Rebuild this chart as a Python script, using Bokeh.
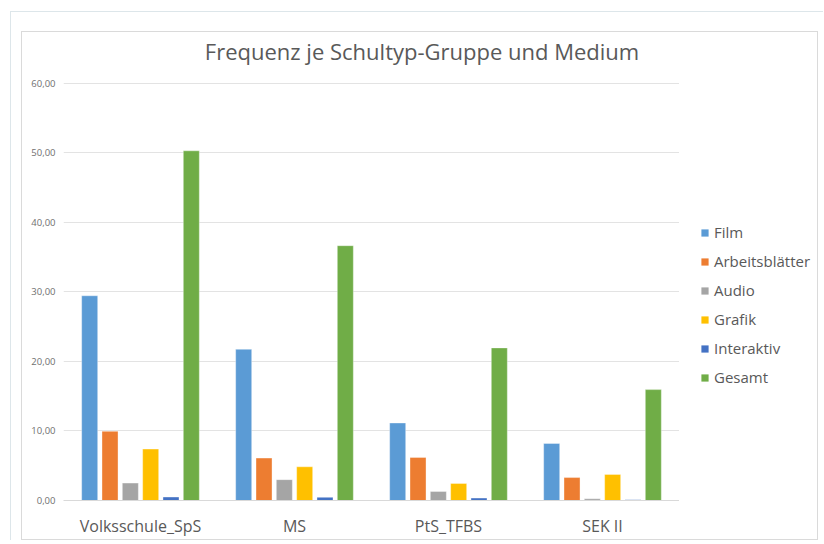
from bokeh.plotting import figure
from bokeh.layouts import column, row
from bokeh.models import (ColumnDataSource, FactorRange, Range1d, FixedTicker,
                          CustomJSTickFormatter, Legend, LegendItem, Label)
from bokeh.transform import dodge
from bokeh.embed import file_html
from bokeh.resources import INLINE

title_text = "Frequenz je Schultyp-Gruppe und Medium"
categories = ["Volksschule_SpS", "MS", "PtS_TFBS", "SEK II"]
film = [29.45, 21.75, 11.15, 8.2]
arbeitsblaetter = [9.95, 6.1, 6.2, 3.3]
audio = [2.5, 3.0, 1.3, 0.25]
grafik = [7.4, 4.85, 2.45, 3.75]
interaktiv = [0.5, 0.45, 0.35, 0.1]
gesamt = [50.3, 36.65, 21.95, 15.95]
y_ticks = [0, 10, 20, 30, 40, 50, 60]

series = [
    ("Film", film, "#5B9BD5"),
    ("Arbeitsblätter", arbeitsblaetter, "#ED7D31"),
    ("Audio", audio, "#A5A5A5"),
    ("Grafik", grafik, "#FFC000"),
    ("Interaktiv", interaktiv, "#4472C4"),
    ("Gesamt", gesamt, "#70AD47"),
]

data = {"cat": categories}
for i, (name, vals, col) in enumerate(series):
    data["s%d" % i] = vals
source = ColumnDataSource(data)

FONT = "Open Sans"
GREY = "#595959"

# frame: 469 px tall, value 60 sits 418 px above the baseline
p = figure(width=657, height=507, x_range=FactorRange(*categories, range_padding=0),
           y_range=Range1d(0, 60 * 469 / 418), output_backend="svg", toolbar_location=None,
           min_border_left=41, min_border_right=0, min_border_top=0, min_border_bottom=38)
p.outline_line_color = None

pitch = 0.132
for i, (name, vals, col) in enumerate(series):
    p.vbar(x=dodge("cat", (i - 2.5) * pitch, range=p.x_range), top="s%d" % i,
           width=0.104, source=source, fill_color=col, line_color="white",
           line_width=0.6, line_alpha=0.6)

p.add_layout(Label(x=2.328, y=64.6, text=title_text, text_align="center",
                   text_baseline="middle", text_font=FONT, text_font_size="22px",
                   text_color=GREY))

p.yaxis.ticker = FixedTicker(ticks=y_ticks)
p.yaxis.formatter = CustomJSTickFormatter(code="return tick.toFixed(2).replace('.', ',');")
p.yaxis.axis_line_color = None
p.yaxis.major_tick_line_color = None
p.yaxis.minor_tick_line_color = None
p.yaxis.major_tick_out = 0
p.yaxis.major_label_text_font = FONT
p.yaxis.major_label_text_font_size = "9.5px"
p.yaxis.major_label_text_color = "#6f6f6f"
p.yaxis.major_label_standoff = 8

p.xaxis.axis_line_color = "#d9d9d9"
p.xaxis.major_tick_line_color = None
p.xaxis.minor_tick_line_color = None
p.xaxis.major_tick_out = 0
p.xaxis.major_label_text_font = FONT
p.xaxis.major_label_text_font_size = "16px"
p.xaxis.major_label_text_color = GREY
p.xaxis.major_label_standoff = 14

p.xgrid.grid_line_color = None
p.ygrid.grid_line_color = "#e3e3e3"
p.ygrid.grid_line_width = 1

# legend panel (swatch renderers are zero-height, only used for the legend)
lg = figure(width=138, height=507, x_range=Range1d(0, 1), y_range=Range1d(0, 1),
            output_backend="svg", toolbar_location=None, x_axis_type=None, y_axis_type=None,
            min_border_left=0, min_border_right=0, min_border_top=0, min_border_bottom=0)
lg.outline_line_color = None
lg.xgrid.grid_line_color = None
lg.ygrid.grid_line_color = None
items = []
for name, vals, col in series:
    r = lg.vbar(x=[0.5], top=[0], bottom=[0], width=0.1, fill_color=col, line_color=None)
    items.append(LegendItem(label=name, renderers=[r]))

legend = Legend(items=items, location=(21, 113), orientation="vertical")
legend.border_line_color = None
legend.background_fill_alpha = 0
legend.padding = 0
legend.margin = 0
legend.spacing = 9
legend.glyph_width = 9
legend.glyph_height = 9
legend.label_height = 20
legend.label_standoff = 5
legend.label_text_font = FONT
legend.label_text_font_size = "15px"
legend.label_text_color = GREY
lg.add_layout(legend, "center")

inner = row(p, lg, styles={"border": "1px solid #dadada"})
layout = column(inner, styles={"border-top": "1.5px solid #dde6ea",
                               "border-left": "1.5px solid #dde6ea",
                               "padding": "19px 5px 0px 10px",
                               "margin": "11px 0px 0px 10px"})

open("out.html", "w").write(file_html(layout, INLINE))
